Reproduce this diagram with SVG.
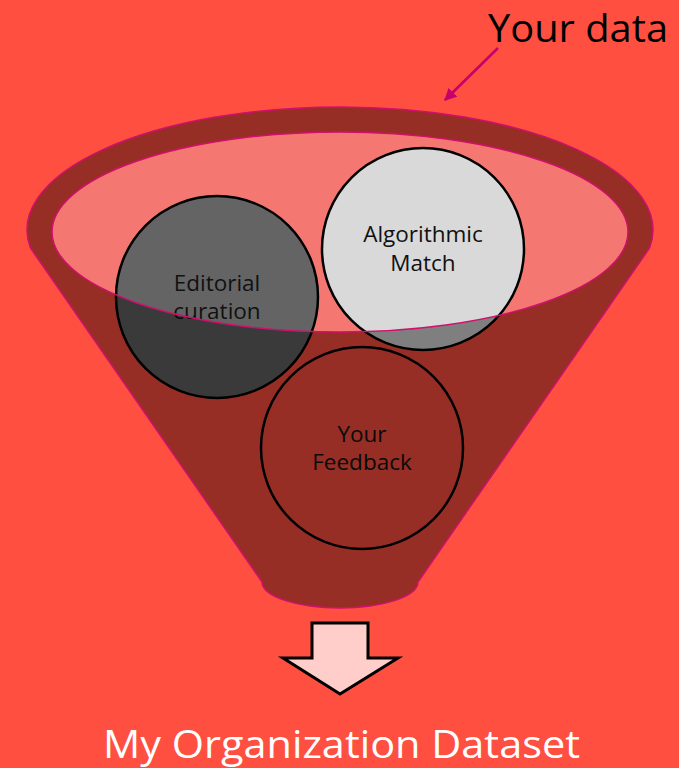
<svg xmlns="http://www.w3.org/2000/svg" width="679" height="768" viewBox="0 0 679 768">
  <defs>
    <style>
      .lbl { font-family: "Open Sans", "Liberation Sans", sans-serif; font-size: 22.5px; fill: #111; text-anchor: middle; }
      .big { font-family: "Open Sans", "Liberation Sans", sans-serif; font-size: 39px; }
      .node { stroke: #000; stroke-width: 2.5; }
      .rim { stroke: #d0106e; stroke-width: 1.5; }
    </style>
    <marker id="ah" viewBox="0 0 10 10" refX="9" refY="5" markerWidth="5" markerHeight="5" orient="auto-start-reverse">
      <path d="M0 0 L10 5 L0 10 Z" fill="#c8006a"/>
    </marker>
  </defs>
  <rect x="0" y="0" width="679" height="768" fill="#ff4f40"/>

  <g id="funnel-opening">
    <ellipse cx="340" cy="232" rx="288" ry="100" fill="#f57771"/>
  </g>

  <g id="editorial-curation">
    <circle class="node" cx="217" cy="297" r="101" fill="#646464"/>
    <text class="lbl" x="217" y="291">Editorial</text>
    <text class="lbl" x="217" y="319">curation</text>
  </g>

  <g id="algorithmic-match">
    <circle class="node" cx="423" cy="249" r="101" fill="#d9d9d9"/>
    <text class="lbl" x="423" y="242">Algorithmic</text>
    <text class="lbl" x="423" y="271">Match</text>
  </g>

  <g id="your-feedback">
    <circle class="node" cx="362" cy="448" r="101" fill="none"/>
    <text class="lbl" x="362" y="442">Your</text>
    <text class="lbl" x="362" y="470">Feedback</text>
  </g>

  <g id="funnel-body">
    <path class="rim" fill="#000" fill-opacity="0.41" fill-rule="evenodd"
      d="M 30.4 248 A 313 123 0 1 1 649.6 248 L 418 582 A 78 26 0 0 1 262 582 Z
         M 52 232 A 288 100 0 0 0 628 232 A 288 100 0 0 0 52 232 Z"/>
  </g>

  <g id="connectors">
    <line x1="498" y1="48" x2="445" y2="100" stroke="#c8006a" stroke-width="2.5" marker-end="url(#ah)"/>
  </g>

  <g id="output-arrow">
    <path d="M 312 623 L 368 623 L 368 658 L 398 658 L 340 694 L 283 658 L 312 658 Z" fill="#ffcdca" stroke="#000" stroke-width="3" stroke-linejoin="miter"/>
  </g>

  <g id="your-data">
    <text class="big" x="578" y="42" text-anchor="middle" fill="#000" textLength="180" lengthAdjust="spacingAndGlyphs">Your data</text>
  </g>

  <g id="dataset">
    <text class="big" x="341.5" y="758" text-anchor="middle" fill="#fff" textLength="477" lengthAdjust="spacingAndGlyphs">My Organization Dataset</text>
  </g>
</svg>
